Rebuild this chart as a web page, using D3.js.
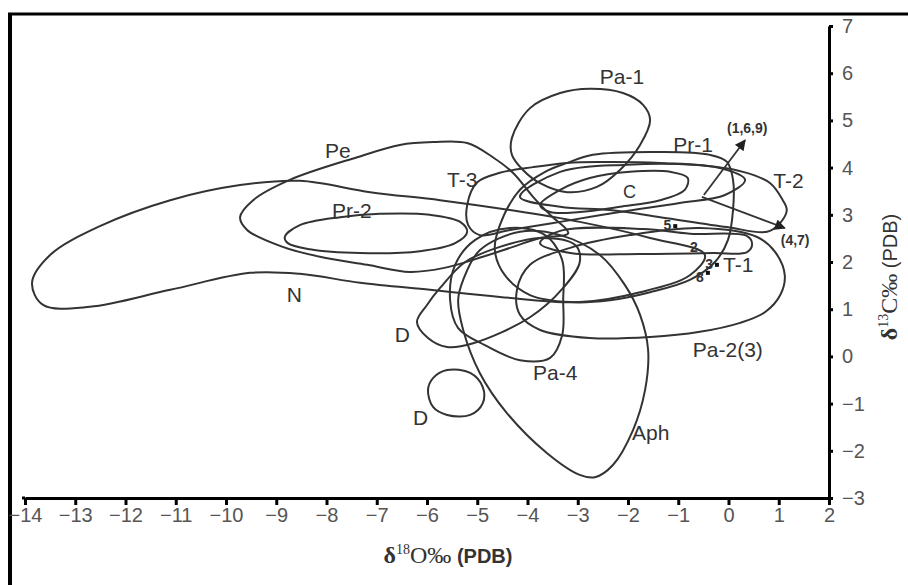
<!DOCTYPE html>
<html>
<head>
<meta charset="utf-8">
<script src="https://cdn.jsdelivr.net/npm/d3@7"></script>
<style>
  body { margin: 0; background: #fff; }
  svg { display: block; }
</style>
</head>
<body>
<svg width="908" height="585"></svg>
<script>
// tick values
var xTicks = [-14, -13, -12, -11, -10, -9, -8, -7, -6, -5, -4, -3, -2, -1, 0, 1, 2];
var yTicks = [-3, -2, -1, 0, 1, 2, 3, 4, 5, 6, 7];

// field outlines, [d18O, d13C]
var fieldN = [[-13.86,1.56],[-13.50,2.15],[-12.51,2.76],[-11.11,3.31],[-9.72,3.63],[-8.53,3.72],[-7.13,3.48],[-5.74,3.31],[-4.35,3.10],[-2.96,2.85],[-1.56,2.51],[-0.47,2.15],[-0.77,1.72],[-1.76,1.36],[-2.96,1.15],[-4.55,1.26],[-5.94,1.41],[-7.33,1.56],[-8.53,1.75],[-9.52,1.77],[-11.11,1.41],[-12.71,1.05],[-13.64,1.09]];
var fieldPe = [[-9.72,2.95],[-9.46,3.31],[-8.73,3.74],[-7.39,4.22],[-6.54,4.48],[-5.88,4.54],[-5.20,4.52],[-4.69,4.22],[-4.29,3.89],[-3.89,3.38],[-3.55,3.00],[-3.19,2.61],[-3.75,2.51],[-4.29,2.32],[-4.89,2.11],[-5.68,1.87],[-6.34,1.79],[-7.19,1.94],[-8.13,2.11],[-8.87,2.32],[-9.58,2.68]];
var fieldPr2 = [[-8.83,2.53],[-8.53,2.78],[-7.73,2.95],[-6.94,3.02],[-5.94,3.00],[-5.34,2.85],[-5.20,2.64],[-5.44,2.40],[-6.14,2.23],[-7.33,2.19],[-8.33,2.27],[-8.77,2.40]];
var fieldT3 = [[-5.00,3.69],[-4.55,3.89],[-3.89,4.01],[-3.21,4.10],[-2.56,4.12],[-1.36,4.10],[-0.17,3.99],[0.33,3.74],[-0.07,3.42],[-0.97,3.25],[-2.16,3.06],[-3.35,2.85],[-4.35,2.68],[-4.95,2.57],[-5.18,2.78],[-5.20,3.21]];
var fieldPa1 = [[-4.31,4.63],[-3.95,5.26],[-3.35,5.58],[-2.76,5.67],[-2.10,5.58],[-1.70,5.33],[-1.56,5.01],[-1.76,4.48],[-2.16,3.95],[-2.62,3.59],[-3.21,3.48],[-3.75,3.67],[-4.09,3.95],[-4.31,4.27]];
var fieldPr1 = [[-4.55,2.78],[-4.15,3.53],[-3.65,3.91],[-3.21,4.10],[-2.70,4.27],[-1.36,4.33],[-0.37,4.27],[-0.03,4.12],[0.09,3.74],[0.09,3.10],[-0.01,2.47],[-0.27,2.00],[-0.77,1.62],[-1.56,1.36],[-2.36,1.19],[-3.15,1.15],[-3.95,1.30],[-4.45,1.72],[-4.65,2.25]];
var fieldC = [[-3.75,3.21],[-3.35,3.53],[-2.76,3.78],[-1.96,3.91],[-1.16,3.91],[-0.81,3.78],[-0.87,3.53],[-1.36,3.31],[-2.16,3.17],[-2.96,3.06],[-3.55,3.06]];
var fieldT2 = [[-4.15,3.38],[-3.35,3.91],[-2.02,4.06],[-0.71,4.06],[0.29,3.91],[0.83,3.67],[1.08,3.31],[1.16,3.10],[1.03,2.83],[0.77,2.64],[-0.03,2.74],[-1.36,2.95],[-2.36,3.10],[-3.35,3.17]];
var fieldPa23 = [[-4.21,1.41],[-3.95,1.94],[-3.15,2.30],[-1.96,2.57],[-0.57,2.72],[0.57,2.53],[0.93,2.21],[1.12,1.72],[1.03,1.30],[0.73,0.94],[0.23,0.71],[-0.57,0.52],[-1.56,0.41],[-2.76,0.39],[-3.75,0.56],[-4.15,0.88]];
var fieldPa4 = [[-5.54,1.19],[-5.44,1.94],[-5.04,2.47],[-4.35,2.72],[-3.65,2.57],[-3.31,2.04],[-3.29,1.19],[-3.31,0.45],[-3.55,-0.03],[-4.15,-0.08],[-4.85,0.24],[-5.38,0.60]];
var fieldD1 = [[-6.20,0.73],[-6.00,1.09],[-5.74,1.45],[-5.24,2.00],[-4.55,2.32],[-3.75,2.51],[-3.05,2.36],[-2.96,2.00],[-3.29,1.45],[-3.95,0.83],[-5.08,0.28],[-5.60,0.20],[-5.98,0.39]];
var fieldD2 = [[-5.60,-0.29],[-5.14,-0.35],[-4.89,-0.65],[-4.89,-0.99],[-5.14,-1.24],[-5.60,-1.24],[-5.88,-1.07],[-5.98,-0.71],[-5.88,-0.46]];
var fieldAph = [[-5.28,1.62],[-4.95,2.25],[-4.15,2.64],[-3.35,2.57],[-2.56,2.15],[-2.06,1.51],[-1.76,0.88],[-1.60,0.14],[-1.66,-0.71],[-1.90,-1.56],[-2.30,-2.30],[-2.66,-2.56],[-2.96,-2.51],[-3.61,-2.05],[-4.41,-1.20],[-4.95,-0.35],[-5.28,0.56],[-5.38,1.19]];
var fieldT1 = [[-3.75,2.40],[-3.35,2.66],[-1.70,2.70],[-0.77,2.60],[0.37,2.55],[0.47,2.38],[0.37,2.21],[-0.31,2.19],[-1.76,2.17],[-3.15,2.19]];

var fields = [fieldN, fieldPe, fieldPr2, fieldT3, fieldPa1, fieldPr1, fieldC, fieldT2,
              fieldPa23, fieldPa4, fieldD1, fieldD2, fieldAph, fieldT1];

// field names and where they sit (left / baseline, data units)
var labelText = ["Pa-1", "Pr-1", "T-2", "T-3", "Pe", "Pr-2", "C", "N", "D", "Pa-4", "D", "Aph", "Pa-2(3)", "T-1"];
var labelX = [-2.56, -1.10, 0.89, -5.60, -8.03, -7.89, -2.10, -8.79, -6.64, -3.89, -6.28, -1.92, -0.71, -0.11];
var labelY = [5.77, 4.33, 3.57, 3.59, 4.20, 2.93, 3.36, 1.15, 0.31, -0.50, -1.45, -1.77, -0.01, 1.79];

// numbered samples
var sampleId = ["5", "2", "3", "8"];
var sampleX = [-1.06, -0.53, -0.23, -0.41];
var sampleY = [2.76, 2.30, 1.94, 1.77];

// trend arrows
var arrowFrom = [[-0.49, 3.42], [-0.53, 3.38]];
var arrowTo = [[0.33, 4.58], [1.12, 2.72]];
var arrowText = ["(1,6,9)", "(4,7)"];
var arrowTextX = [-0.03, 1.04];
var arrowTextY = [4.73, 2.36];

var svg = d3.select("svg"),
    width = +svg.attr("width"),
    height = +svg.attr("height");

svg.append("rect").attr("width", width).attr("height", height).attr("fill", "#fff");

var x = d3.scaleLinear().domain([-14, 2]).range([25, 829]);
var y = d3.scaleLinear().domain([-3, 7]).range([498, 26]);

var ink = "#333";

// outer frame (cut off at right and bottom)
svg.append("line").attr("x1", 8).attr("x2", width).attr("y1", 14).attr("y2", 14)
    .attr("stroke", "#000").attr("stroke-width", 3);
svg.append("line").attr("x1", 10).attr("x2", 10).attr("y1", 13).attr("y2", height)
    .attr("stroke", "#000").attr("stroke-width", 4);

// fields
var outline = d3.line()
    .x(function (d) { return x(d[0]); })
    .y(function (d) { return y(d[1]); })
    .curve(d3.curveCatmullRomClosed.alpha(0.5));

svg.append("g")
    .selectAll("path")
    .data(fields)
    .enter().append("path")
    .attr("d", outline)
    .attr("fill", "none")
    .attr("stroke", ink)
    .attr("stroke-width", 2);

// axes
var fmt = function (d) { return d < 0 ? "\u2212" + Math.abs(d) : "" + d; };

var xAxis = svg.append("g")
    .attr("transform", "translate(0," + y(-3) + ")")
    .call(d3.axisBottom(x).tickValues(xTicks).tickSize(7).tickSizeOuter(0).tickPadding(3).tickFormat(fmt));

var yAxis = svg.append("g")
    .attr("transform", "translate(" + x(2) + ",0)")
    .call(d3.axisRight(y).tickValues(yTicks).tickSize(4).tickSizeOuter(0).tickPadding(9).tickFormat(fmt));

[xAxis, yAxis].forEach(function (ax) {
    ax.select(".domain").attr("stroke", "#000").attr("stroke-width", 3);
    ax.selectAll(".tick line").attr("stroke", "#000").attr("stroke-width", 3);
    ax.selectAll(".tick text")
        .attr("font-family", "Liberation Sans, Arial, sans-serif")
        .attr("font-size", 20)
        .attr("fill", "#555");
});
// little overhang of the x axis on the left
svg.append("line").attr("x1", 22).attr("x2", x(-14)).attr("y1", y(-3)).attr("y2", y(-3))
    .attr("stroke", "#000").attr("stroke-width", 3);

// field labels
svg.append("g")
    .selectAll("text")
    .data(labelText)
    .enter().append("text")
    .attr("x", function (d, i) { return x(labelX[i]); })
    .attr("y", function (d, i) { return y(labelY[i]); })
    .attr("font-family", "Liberation Sans, Arial, sans-serif")
    .attr("font-size", function (d) { return d == "C" ? 18 : 21; })
    .attr("fill", ink)
    .text(function (d) { return d; });

// samples
var samp = svg.append("g")
    .selectAll("g")
    .data(sampleId)
    .enter().append("g")
    .attr("transform", function (d, i) { return "translate(" + x(sampleX[i]) + "," + y(sampleY[i]) + ")"; });

samp.filter(function (d) { return d != "2"; })
    .append("rect")
    .attr("x", -2).attr("y", -2).attr("width", 4).attr("height", 4)
    .attr("fill", "#111");

samp.append("text")
    .attr("x", -4)
    .attr("y", function (d) { return d == "8" ? 9 : 4; })
    .attr("text-anchor", "end")
    .attr("font-family", "Liberation Sans, Arial, sans-serif")
    .attr("font-weight", "bold")
    .attr("font-size", 14)
    .attr("fill", ink)
    .text(function (d) { return d; });

// arrows
svg.append("defs").append("marker")
    .attr("id", "head")
    .attr("viewBox", "0 0 10 10")
    .attr("refX", 9).attr("refY", 5)
    .attr("markerWidth", 7).attr("markerHeight", 6)
    .attr("orient", "auto")
    .append("path")
    .attr("d", "M0,0L10,5L0,10z")
    .attr("fill", "#222");

svg.append("g")
    .selectAll("line")
    .data(arrowFrom)
    .enter().append("line")
    .attr("x1", function (d) { return x(d[0]); })
    .attr("y1", function (d) { return y(d[1]); })
    .attr("x2", function (d, i) { return x(arrowTo[i][0]); })
    .attr("y2", function (d, i) { return y(arrowTo[i][1]); })
    .attr("stroke", ink)
    .attr("stroke-width", 1.8)
    .attr("marker-end", "url(#head)");

svg.append("g")
    .selectAll("text")
    .data(arrowText)
    .enter().append("text")
    .attr("x", function (d, i) { return x(arrowTextX[i]); })
    .attr("y", function (d, i) { return y(arrowTextY[i]); })
    .attr("font-family", "Liberation Sans, Arial, sans-serif")
    .attr("font-weight", "bold")
    .attr("font-size", 14)
    .attr("fill", ink)
    .text(function (d) { return d; });

// axis titles
var xt = svg.append("text")
    .attr("x", 448).attr("y", 563)
    .attr("text-anchor", "middle")
    .attr("fill", "#333");
xt.append("tspan").attr("font-family", "Liberation Serif, serif").attr("font-weight", "bold").attr("font-size", 24).text("\u03b4");
xt.append("tspan").attr("font-family", "Liberation Serif, serif").attr("font-size", 14).attr("dy", -9).text("18");
xt.append("tspan").attr("font-family", "Liberation Serif, serif").attr("font-size", 24).attr("dy", 9).text("O\u2030");
xt.append("tspan").attr("font-family", "Liberation Sans, Arial, sans-serif").attr("font-weight", "bold").attr("font-size", 20).text(" (PDB)");

var yt = svg.append("text")
    .attr("transform", "translate(897,277) rotate(-90)")
    .attr("text-anchor", "middle")
    .attr("fill", "#333");
yt.append("tspan").attr("font-family", "Liberation Serif, serif").attr("font-weight", "bold").attr("font-size", 24).text("\u03b4");
yt.append("tspan").attr("font-family", "Liberation Serif, serif").attr("font-size", 14).attr("dy", -9).text("13");
yt.append("tspan").attr("font-family", "Liberation Serif, serif").attr("font-size", 24).attr("dy", 9).text("C\u2030");
yt.append("tspan").attr("font-family", "Liberation Sans, Arial, sans-serif").attr("font-size", 20).text(" (PDB)");
</script>
</body>
</html>
